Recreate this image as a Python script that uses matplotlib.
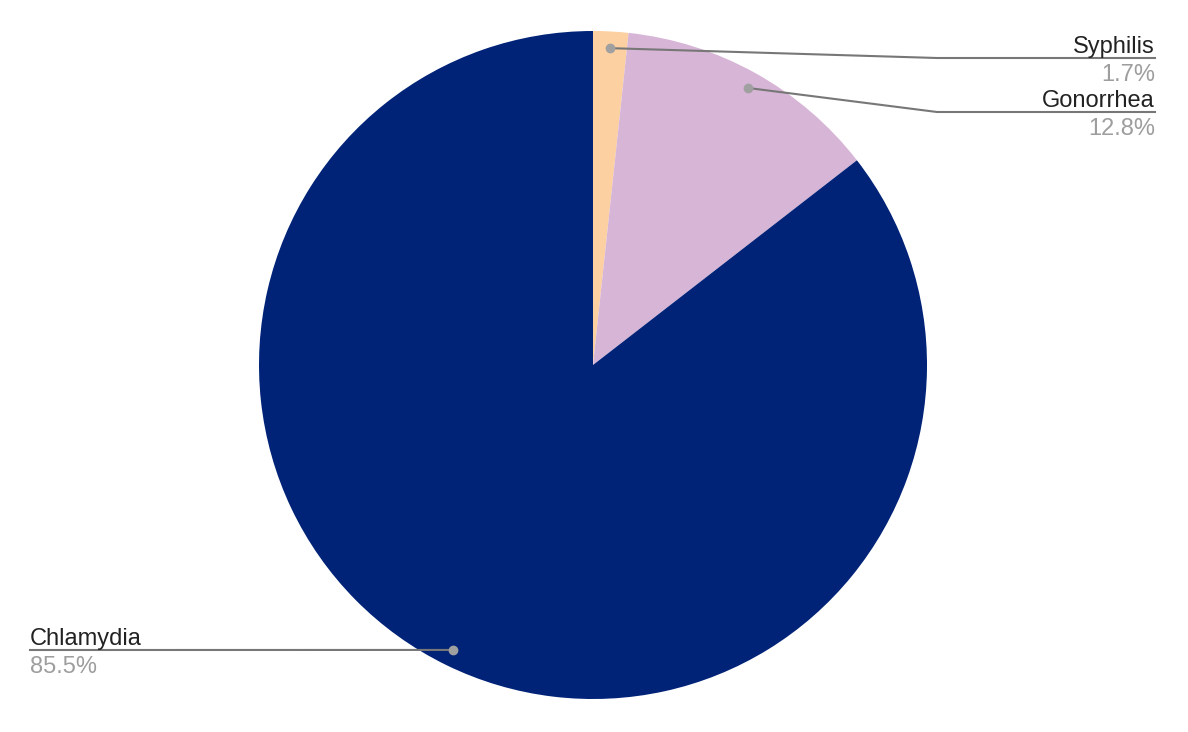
import numpy as np
import matplotlib.pyplot as plt

diseases = ['Syphilis', 'Gonorrhea', 'Chlamydia']
shares = [1.7, 12.8, 85.5]
colors = ['#fcd0a1', '#d7b5d6', '#002378']

plt.rcParams['font.family'] = ['Liberation Sans', 'DejaVu Sans']

fig = plt.figure(figsize=(11.88, 7.32), dpi=100)
ax = fig.add_axes([0, 0, 1, 1])
ax.set_xlim(0, 1188)
ax.set_ylim(732, 0)
ax.axis('off')

cx, cy, r = 593, 365, 334
# y axis is flipped, so counterclock=False on screen needs counterclock=True here
ax.pie(shares, colors=colors, startangle=-90, counterclock=True,
       center=(cx, cy), radius=r, frame=True,
       wedgeprops=dict(linewidth=0))
ax.set_xlim(0, 1188)
ax.set_ylim(732, 0)
ax.axis('off')

# leader lines and labels
cum = np.cumsum([0] + shares[:-1])
mids = (cum + np.array(shares) / 2) / 100 * 2 * np.pi
label_ys = {'Syphilis': 58, 'Gonorrhea': 112, 'Chlamydia': 650}
for name, share, ang in zip(diseases, shares, mids):
    dx = cx + 0.95 * r * np.sin(ang)
    dy = cy - 0.95 * r * np.cos(ang)
    ly = label_ys[name]
    if dx > cx:
        xs, ys = [dx, 937, 1155], [dy, ly, ly]
        tx, ha = 1155, 'right'
    else:
        xs, ys = [dx, 30], [dy, ly]
        tx, ha = 30, 'left'
    ax.plot(xs, ys, color='#777777', lw=1.5, zorder=3)
    ax.plot(dx, dy, 'o', color='#a0a0a0', ms=6, zorder=4)
    ax.text(tx, ly - 5, name, ha=ha, va='baseline', fontsize=17, color='#222222')
    ax.text(tx, ly + 23, f'{share}%', ha=ha, va='baseline', fontsize=17, color='#9e9e9e')

fig.savefig('out.png', dpi=100)
